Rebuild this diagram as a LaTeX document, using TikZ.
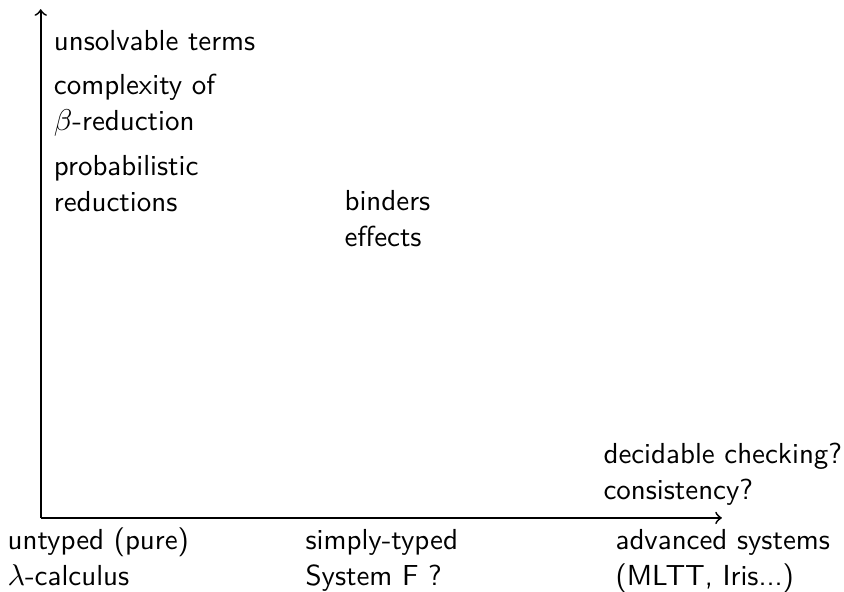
\documentclass[tikz,border=0pt]{standalone}
\usepackage{amsmath,amssymb}
\renewcommand{\familydefault}{\sfdefault}

\begin{document}
\begin{tikzpicture}[every node/.style={inner sep=0pt,anchor=base west,align=left,
    font=\fontsize{9.65pt}{12pt}\selectfont}]
\useasboundingbox (-0.477,-0.867) rectangle (9.411,6.068);
\coordinate (o) at (0,0);
\coordinate (xend) at (7.98,0);
\coordinate (yend) at (0,5.96);
\draw[->,semithick] (o) -- (xend);
\draw[->,semithick] (o) -- (yend);
% along the vertical axis (anchored on the last line)
\node (unsolv) at (0.148,5.471) {unsolvable terms};
\node (cplx) at (0.148,4.534) {complexity of\\$\beta$-reduction};
\node (proba) at (0.148,3.585) {probabilistic\\reductions};
\node (bind) at (3.553,3.175) {binders\\effects};
\node (decid) at (6.587,0.211) {decidable checking?\\consistency?};
% along the horizontal axis
\node (untyped) at (-0.395,-0.795) {untyped (pure)\\$\lambda$-calculus};
\node (simply) at (3.096,-0.795) {simply-typed\\System F ?};
\node (adv) at (6.728,-0.790) {advanced systems\\(MLTT, Iris...)};
\end{tikzpicture}
\end{document}
